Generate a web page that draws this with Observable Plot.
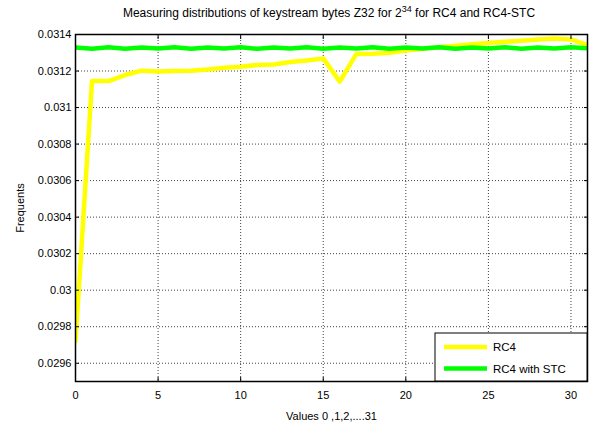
<!DOCTYPE html>
<html>
<head>
<meta charset="utf-8">
<script src="https://cdn.jsdelivr.net/npm/d3@7"></script>
<script src="https://cdn.jsdelivr.net/npm/@observablehq/plot@0.6"></script>
<style>
  html, body { margin: 0; padding: 0; background: #fff; }
  #chart svg { display: block; }
</style>
</head>
<body>
<div id="chart"></div>
<script>
// ---- data ----
const byteValues = [0,1,2,3,4,5,6,7,8,9,10,11,12,13,14,15,16,17,18,19,20,21,22,23,24,25,26,27,28,29,30,31];
const rc4 = [0.02972, 0.031145, 0.031145, 0.031178, 0.031202, 0.031198, 0.031200, 0.031202, 0.031209, 0.031218,
             0.031223, 0.031233, 0.031236, 0.031249, 0.031258, 0.031269, 0.031142, 0.031293, 0.031295, 0.031300,
             0.031312, 0.031322, 0.031330, 0.031338, 0.031347, 0.031354, 0.031360, 0.031366, 0.031372, 0.031378,
             0.031373, 0.031342];
const rc4stc = [0.031329, 0.031322, 0.031330, 0.031322, 0.031329, 0.031323, 0.031330, 0.031322, 0.031329, 0.031323,
                0.031330, 0.031322, 0.031329, 0.031323, 0.031330, 0.031322, 0.031329, 0.031323, 0.031330, 0.031322,
                0.031329, 0.031323, 0.031330, 0.031322, 0.031329, 0.031323, 0.031330, 0.031322, 0.031329, 0.031323,
                0.031330, 0.031324];
const seriesNames = ["RC4", "RC4 with STC"];
const seriesColors = ["#ffff00", "#00ff00"];
const xTicks = [0, 5, 10, 15, 20, 25, 30];
const yTicks = [0.0296, 0.0298, 0.03, 0.0302, 0.0304, 0.0306, 0.0308, 0.031, 0.0312, 0.0314];
const titleParts = ["Measuring distributions of keystream bytes Z32 for 2", "34", " for RC4 and RC4-STC"];
const xLabel = "Values 0 ,1,2,....31";
const yLabel = "Frequents";

const rowsRC4 = byteValues.map((v, i) => ({x: v, y: rc4[i]}));
const rowsSTC = byteValues.map((v, i) => ({x: v, y: rc4stc[i]}));
const fmt = d => String(+d.toFixed(4));

const W = 592, H = 425;
const mL = 75, mR = 5, mT = 34, mB = 44;
const FONT = "'Liberation Sans', Arial, sans-serif";

const chart = Plot.plot({
  width: W, height: H,
  marginLeft: mL, marginRight: mR, marginTop: mT, marginBottom: mB,
  style: {fontFamily: FONT, fontSize: "11px", background: "#fff", color: "#000", overflow: "visible"},
  x: {domain: [0, 31]},
  y: {domain: [0.0295, 0.0314]},
  marks: [
    Plot.gridX(xTicks, {stroke: "#000", strokeOpacity: 0.75, strokeDasharray: "1,2"}),
    Plot.gridY(yTicks, {stroke: "#000", strokeOpacity: 0.75, strokeDasharray: "1,2"}),
    Plot.line(rowsRC4, {x: "x", y: "y", stroke: seriesColors[0], strokeWidth: 4.5, clip: true}),
    Plot.line(rowsSTC, {x: "x", y: "y", stroke: seriesColors[1], strokeWidth: 4.5, clip: true}),
    Plot.axisX(xTicks, {tickSize: -4, tickPadding: 14, tickFormat: d => String(d), label: xLabel, labelAnchor: "center", labelArrow: "none", labelOffset: 38}),
    Plot.axisX(xTicks, {anchor: "top", tickSize: -4, tickFormat: () => "", label: null}),
    Plot.axisY(yTicks, {tickSize: -4, tickPadding: 8, tickFormat: fmt, label: yLabel, labelAnchor: "center", labelArrow: "none", labelOffset: 59}),
    Plot.axisY(yTicks, {anchor: "right", tickSize: -4, tickFormat: () => "", label: null}),
    Plot.frame({stroke: "#000", strokeWidth: 1.5})
  ]
});
document.getElementById("chart").appendChild(chart);

const svg = d3.select(chart);
// title with superscript
const t = svg.append("text")
  .attr("x", 329).attr("y", 17)
  .attr("text-anchor", "middle")
  .style("font-family", FONT)
  .style("font-size", "12px")
  .attr("fill", "#000");
t.append("tspan").text(titleParts[0]);
t.append("tspan").attr("dy", -5).style("font-size", "9px").text(titleParts[1]);
t.append("tspan").attr("dy", 5).text(titleParts[2]);

// legend inside bottom-right
const lx = 435, ly = 333, lw = W - mR - 435, lh = (H - mB) - 333;
const lg = svg.append("g");
lg.append("rect").attr("x", lx).attr("y", ly).attr("width", lw).attr("height", lh)
  .attr("fill", "#fff").attr("stroke", "#000").attr("stroke-width", 1);
seriesNames.forEach((name, i) => {
  const yy = ly + 14 + i * 21.5;
  lg.append("line").attr("x1", lx + 9).attr("x2", lx + 52).attr("y1", yy).attr("y2", yy)
    .attr("stroke", seriesColors[i]).attr("stroke-width", 4.5);
  lg.append("text").attr("x", lx + 58).attr("y", yy + 4)
    .attr("text-anchor", "start")
    .style("font-family", FONT).style("font-size", "11.5px")
    .attr("fill", "#000").text(name);
});
</script>
</body>
</html>
